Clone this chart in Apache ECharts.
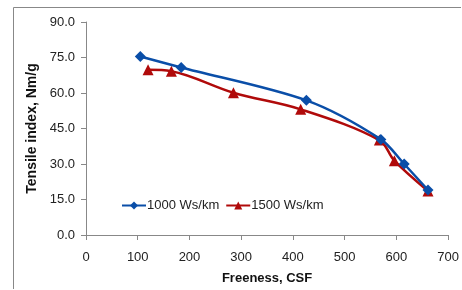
<!DOCTYPE html>
<html>
<head>
<meta charset="utf-8">
<script src="https://cdn.jsdelivr.net/npm/echarts@6/dist/echarts.min.js"></script>
<style>
html,body{margin:0;padding:0;background:#fff;overflow:hidden;}
#chart{width:462px;height:290px;}
</style>
</head>
<body>
<div id="chart"></div>
<script>
// values
var seriesNames = ['1000 Ws/km', '1500 Ws/km'];
var freeness1000 = [105, 184, 426, 570, 615, 661];
var tensile1000 = [75.4, 70.8, 56.9, 40.4, 30.0, 19.0];
var freeness1500 = [120, 165, 285, 415, 567, 596, 661];
var tensile1500 = [69.8, 69.2, 60.1, 53.1, 40.1, 31.4, 18.6];

function pairs(xs, ys) {
	var out = [];
	for (var i = 0; i < xs.length; i++) {
		out.push([xs[i], ys[i]]);
	}
	return out;
}

var dom = document.getElementById('chart');
var myChart = echarts.init(dom);
var font = 'Liberation Sans, Arial, sans-serif';

var option = {
	animation: false,
	backgroundColor: '#fff',
	graphic: [{
		type: 'polyline',
		shape: { points: [[13.5, 289], [13.5, 7.5], [461, 7.5]] },
		style: { fill: 'none', stroke: '#888', lineWidth: 1 }
	}],
	legend: {
		data: seriesNames,
		left: 121, top: 199, padding: 0,
		itemWidth: 24, itemHeight: 10, itemGap: 6,
		textStyle: { fontFamily: font, fontSize: 13, color: '#222', padding: [0, 0, 0, -4] }
	},
	grid: { left: 86, right: 9, top: 22, bottom: 51 },
	xAxis: {
		type: 'value',
		min: 0, max: 700, interval: 100,
		name: 'Freeness, CSF',
		nameLocation: 'middle', nameGap: 37,
		nameTextStyle: { fontFamily: font, fontSize: 13, fontWeight: 'bold', color: '#111' },
		axisLine: { lineStyle: { color: '#888' } },
		axisTick: { show: true, length: 5, lineStyle: { color: '#888' } },
		axisLabel: { fontFamily: font, fontSize: 13, color: '#222', margin: 16 },
		splitLine: { show: false }
	},
	yAxis: {
		type: 'value',
		min: 0, max: 90, interval: 15,
		name: 'Tensile index, Nm/g',
		nameLocation: 'middle', nameGap: 44, nameRotate: 90,
		nameTextStyle: { fontFamily: font, fontSize: 14, fontWeight: 'bold', color: '#111' },
		axisLine: { show: true, lineStyle: { color: '#888' } },
		axisTick: { show: true, length: 5, lineStyle: { color: '#888' } },
		axisLabel: {
			fontFamily: font, fontSize: 13, color: '#222', margin: 11,
			formatter: function (v) { return v.toFixed(1); }
		},
		splitLine: { show: false }
	},
	series: [{
		name: seriesNames[0],
		type: 'line',
		smooth: 0.3,
		data: pairs(freeness1000, tensile1000),
		symbol: 'diamond', symbolSize: 11,
		itemStyle: { color: '#0a4ea8' },
		lineStyle: { color: '#0a4ea8', width: 2.5 },
		z: 3
	}, {
		name: seriesNames[1],
		type: 'line',
		smooth: 0.35,
		data: pairs(freeness1500, tensile1500),
		symbol: 'triangle', symbolSize: 11,
		itemStyle: { color: '#b00a0a' },
		lineStyle: { color: '#b00a0a', width: 2.5 },
		z: 2
	}]
};
if (option && typeof option === "object") {
	myChart.setOption(option, true);
}
</script>
</body>
</html>
